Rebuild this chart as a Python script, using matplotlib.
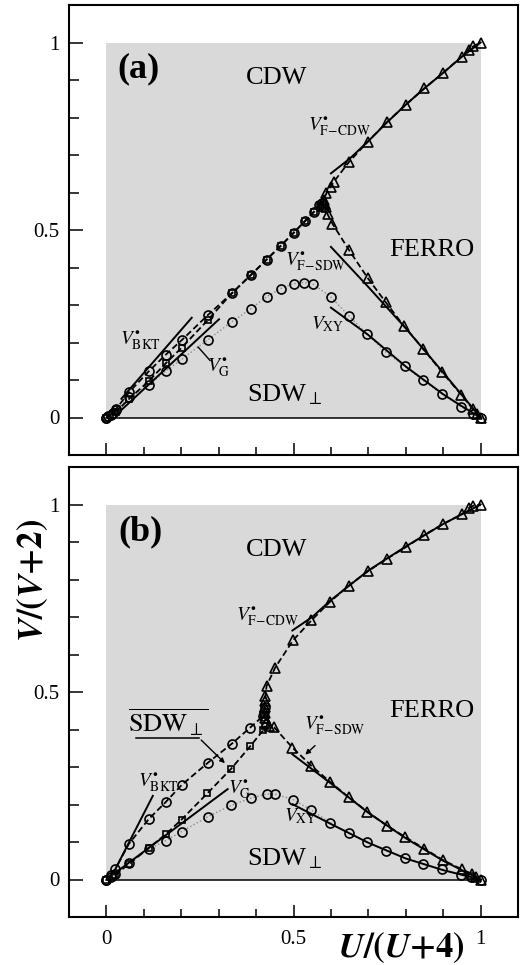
import numpy as np
import matplotlib
matplotlib.use("Agg")
import matplotlib.pyplot as plt
from matplotlib.patches import Rectangle

plt.rcParams['font.family'] = 'serif'
plt.rcParams['font.serif'] = ['Liberation Serif', 'DejaVu Serif']
plt.rcParams['mathtext.fontset'] = 'stix'

#-----------------------------------------------------------------------------
# panel (a) data  (x = U/(U+4), y = V/(V+2))
a_tri_up_x = [0.575, 0.578, 0.581, 0.588, 0.599, 0.608, 0.648, 0.699, 0.749, 0.800, 0.850, 0.900, 0.949, 0.968, 0.981, 1.000]
a_tri_up_y = [0.565, 0.572, 0.580, 0.598, 0.616, 0.629, 0.681, 0.736, 0.787, 0.834, 0.878, 0.919, 0.962, 0.981, 0.990, 1.000]
a_tri_dn_x = [0.583, 0.586, 0.591, 0.604, 0.648, 0.699, 0.746, 0.796, 0.846, 0.897, 0.948, 0.979, 0.990, 1.000]
a_tri_dn_y = [0.570, 0.562, 0.542, 0.517, 0.447, 0.371, 0.308, 0.243, 0.184, 0.121, 0.061, 0.023, 0.010, 0.000]
a_bkt_x = [0.0, 0.005, 0.017, 0.026, 0.061, 0.113, 0.159, 0.201, 0.272, 0.335, 0.386, 0.428, 0.466, 0.500, 0.531, 0.555, 0.568, 0.575]
a_bkt_y = [0.0, 0.004, 0.012, 0.023, 0.068, 0.123, 0.168, 0.206, 0.274, 0.331, 0.380, 0.421, 0.458, 0.492, 0.524, 0.549, 0.567, 0.572]
a_g_x = [0.0, 0.026, 0.061, 0.113, 0.159, 0.201, 0.272, 0.335, 0.386, 0.428, 0.466, 0.500, 0.531, 0.555, 0.570]
a_g_y = [0.0, 0.015, 0.050, 0.097, 0.145, 0.186, 0.261, 0.331, 0.380, 0.421, 0.458, 0.492, 0.524, 0.549, 0.565]
a_xy_x = [0.0, 0.012, 0.026, 0.061, 0.113, 0.159, 0.201, 0.272, 0.335, 0.386, 0.428, 0.466, 0.500, 0.528, 0.553, 0.599, 0.648, 0.697, 0.746, 0.797, 0.846, 0.897, 0.947, 0.980, 1.000]
a_xy_y = [0.0, 0.008, 0.020, 0.055, 0.087, 0.124, 0.155, 0.208, 0.255, 0.290, 0.322, 0.344, 0.357, 0.360, 0.355, 0.322, 0.271, 0.222, 0.175, 0.137, 0.099, 0.063, 0.029, 0.010, 0.000]
# asymptotic (solid) curves
a_fcdw_x = [0.60, 0.65, 0.70, 0.75, 0.80, 0.85, 0.90, 0.95, 1.00]
a_fcdw_y = [0.651, 0.690, 0.737, 0.787, 0.834, 0.878, 0.919, 0.962, 1.000]
a_fsdw_x = [0.60, 0.70, 0.80, 0.90, 1.00]
a_fsdw_y = [0.455, 0.348, 0.238, 0.120, 0.000]
a_vxy_x = [0.60, 0.70, 0.80, 0.90, 0.95, 1.00]
a_vxy_y = [0.293, 0.220, 0.136, 0.062, 0.030, 0.000]
a_sbkt_x = [0.04, 0.228]
a_sbkt_y = [0.050, 0.266]
a_sg_x = [0.04, 0.301]
a_sg_y = [0.020, 0.262]

#-----------------------------------------------------------------------------
# panel (b) data
b_tri_up_x = [0.423, 0.423, 0.423, 0.424, 0.425, 0.428, 0.451, 0.499, 0.548, 0.597, 0.648, 0.699, 0.749, 0.800, 0.850, 0.900, 0.950, 0.968, 0.981, 1.000]
b_tri_up_y = [0.430, 0.445, 0.460, 0.475, 0.490, 0.516, 0.565, 0.638, 0.691, 0.740, 0.784, 0.822, 0.855, 0.886, 0.919, 0.948, 0.974, 0.990, 0.997, 1.000]
b_tri_dn_x = [0.426, 0.435, 0.448, 0.497, 0.548, 0.597, 0.648, 0.697, 0.749, 0.799, 0.850, 0.899, 0.950, 0.977, 0.987, 1.000]
b_tri_dn_y = [0.418, 0.410, 0.406, 0.352, 0.303, 0.261, 0.219, 0.181, 0.144, 0.113, 0.082, 0.052, 0.027, 0.015, 0.008, 0.000]
b_bkt_x = [0.0, 0.012, 0.024, 0.060, 0.113, 0.159, 0.201, 0.272, 0.335, 0.384, 0.419, 0.421, 0.423]
b_bkt_y = [0.0, 0.013, 0.028, 0.095, 0.161, 0.207, 0.252, 0.312, 0.362, 0.405, 0.436, 0.448, 0.460]
b_g_x = [0.0, 0.024, 0.061, 0.113, 0.159, 0.201, 0.270, 0.334, 0.384, 0.419, 0.423]
b_g_y = [0.0, 0.013, 0.042, 0.084, 0.121, 0.160, 0.230, 0.296, 0.355, 0.398, 0.410]
b_xy_x = [0.0, 0.012, 0.024, 0.061, 0.113, 0.159, 0.201, 0.272, 0.334, 0.386, 0.428, 0.450, 0.499, 0.548, 0.597, 0.648, 0.697, 0.746, 0.797, 0.846, 0.897, 0.947, 0.975, 1.000]
b_xy_y = [0.0, 0.008, 0.015, 0.045, 0.081, 0.104, 0.128, 0.168, 0.198, 0.217, 0.228, 0.228, 0.213, 0.185, 0.152, 0.124, 0.099, 0.077, 0.058, 0.042, 0.027, 0.013, 0.006, 0.000]
b_fcdw_x = [0.497, 0.55, 0.60, 0.70, 0.80, 0.90, 1.00]
b_fcdw_y = [0.664, 0.700, 0.745, 0.824, 0.888, 0.948, 1.000]
b_fsdw_x = [0.497, 0.60, 0.70, 0.80, 0.90, 1.00]
b_fsdw_y = [0.334, 0.256, 0.178, 0.110, 0.050, 0.000]
b_vxy_x = [0.497, 0.60, 0.70, 0.80, 0.90, 1.00]
b_vxy_y = [0.201, 0.148, 0.098, 0.056, 0.025, 0.000]
b_sbkt_x = [0.026, 0.124]
b_sbkt_y = [0.032, 0.223]
b_sg_x = [0.02, 0.324]
b_sg_y = [0.015, 0.241]

#-----------------------------------------------------------------------------
fig = plt.figure(figsize=(5.21, 9.65), dpi=100)

mk = dict(mfc='none', mec='black', mew=1.2, ms=6.5)
dash = (0, (3.5, 1.8))

def setup(ax, xlabels):
    ax.set_xlim(-0.1, 1.1)
    ax.set_ylim(-0.1, 1.1)
    ax.add_patch(Rectangle((0, 0), 1, 1, facecolor='#d9d9d9', edgecolor='none', zorder=0))
    ax.plot([0, 1], [0, 0], color='black', lw=1.1, zorder=1)
    for s in ['top', 'right', 'left', 'bottom']:
        ax.spines[s].set_linewidth(1.5)
    ax.set_xticks([0, 0.5, 1])
    ax.set_yticks([0, 0.5, 1])
    ax.set_xticks(np.arange(0.1, 1.0, 0.1), minor=True)
    ax.set_yticks(np.arange(0.1, 1.0, 0.1), minor=True)
    ax.set_yticklabels(['0', '0.5', '1'])
    if xlabels:
        ax.set_xticklabels(['0', '0.5', '1'])
    else:
        ax.set_xticklabels([])
    ax.tick_params(which='both', direction='in', top=False, right=False, labelsize=15, width=1.1)
    ax.tick_params(axis='y', which='major', length=10, pad=7)
    ax.tick_params(axis='y', which='minor', length=7)
    ax.tick_params(axis='x', which='major', length=9, pad=9)
    ax.tick_params(axis='x', which='minor', length=5.5)

def curves(ax, d):
    ax.plot(d['xy_x'], d['xy_y'], ls=':', color='#8a8a8a', lw=1.0, marker='o', **mk, zorder=3)
    ax.plot(d['g_x'], d['g_y'], ls=dash, color='black', lw=1.3, marker='s', mfc='none', mec='black', mew=1.2, ms=5, zorder=4)
    ax.plot(d['bkt_x'], d['bkt_y'], ls=dash, color='black', lw=1.3, marker='o', **mk, zorder=4)
    ax.plot(d['tu_x'], d['tu_y'], ls=dash, color='black', lw=1.3, marker='^', **mk, zorder=4)
    ax.plot(d['td_x'], d['td_y'], ls=dash, color='black', lw=1.3, marker='^', **mk, zorder=4)
    for k in ['fcdw', 'fsdw', 'vxy', 'sbkt', 'sg']:
        ax.plot(d[k + '_x'], d[k + '_y'], color='black', lw=1.4, zorder=5)

lab = dict(fontsize=19, ha='center', va='center')
sub = dict(fontsize=14, ha='center', va='center')

#-----------------------------------------------------------------------------
'''panel (a)'''
ax1 = fig.add_axes([69/521, 510/965, 449/521, 450/965])
setup(ax1, False)
curves(ax1, dict(xy_x=a_xy_x, xy_y=a_xy_y, g_x=a_g_x, g_y=a_g_y, bkt_x=a_bkt_x, bkt_y=a_bkt_y,
                 tu_x=a_tri_up_x, tu_y=a_tri_up_y, td_x=a_tri_dn_x, td_y=a_tri_dn_y,
                 fcdw_x=a_fcdw_x, fcdw_y=a_fcdw_y, fsdw_x=a_fsdw_x, fsdw_y=a_fsdw_y,
                 vxy_x=a_vxy_x, vxy_y=a_vxy_y, sbkt_x=a_sbkt_x, sbkt_y=a_sbkt_y, sg_x=a_sg_x, sg_y=a_sg_y))
ax1.text(0.085, 0.93, '(a)', fontsize=26, fontweight='bold', ha='center', va='center')
ax1.text(0.456, 0.904, 'CDW', **lab)
ax1.text(0.871, 0.447, 'FERRO', **lab)
ax1.text(0.477, 0.062, r'SDW$_{\perp}$', **lab)
ax1.text(0.624, 0.775, r'$V^{\bullet}_{\mathrm{F\!-\!CDW}}$', **sub)
ax1.text(0.56, 0.415, r'$V^{\bullet}_{\mathrm{F\!-\!SDW}}$', **sub)
ax1.text(0.59, 0.250, r'$V_{\mathrm{XY}}$', **sub)
ax1.text(0.09, 0.205, r'$V^{\bullet}_{\mathrm{BKT}}$', **sub)
ax1.text(0.30, 0.132, r'$V^{\bullet}_{\mathrm{G}}$', **sub)
ax1.plot([0.245, 0.277], [0.188, 0.152], color='black', lw=1.0, zorder=6)

#-----------------------------------------------------------------------------
'''panel (b)'''
ax2 = fig.add_axes([69/521, 48/965, 449/521, 450/965])
setup(ax2, True)
curves(ax2, dict(xy_x=b_xy_x, xy_y=b_xy_y, g_x=b_g_x, g_y=b_g_y, bkt_x=b_bkt_x, bkt_y=b_bkt_y,
                 tu_x=b_tri_up_x, tu_y=b_tri_up_y, td_x=b_tri_dn_x, td_y=b_tri_dn_y,
                 fcdw_x=b_fcdw_x, fcdw_y=b_fcdw_y, fsdw_x=b_fsdw_x, fsdw_y=b_fsdw_y,
                 vxy_x=b_vxy_x, vxy_y=b_vxy_y, sbkt_x=b_sbkt_x, sbkt_y=b_sbkt_y, sg_x=b_sg_x, sg_y=b_sg_y))
ax2.text(0.09, 0.928, '(b)', fontsize=26, fontweight='bold', ha='center', va='center')
ax2.text(0.456, 0.878, 'CDW', **lab)
ax2.text(0.871, 0.45, 'FERRO', **lab)
ax2.text(0.477, 0.056, r'SDW$_{\perp}$', **lab)
ax2.text(0.165, 0.420, r'$\overline{\mathrm{SDW}_{\perp}}$', **lab)
ax2.text(0.43, 0.700, r'$V^{\bullet}_{\mathrm{F\!-\!CDW}}$', **sub)
ax2.text(0.61, 0.410, r'$V^{\bullet}_{\mathrm{F\!-\!SDW}}$', **sub)
ax2.text(0.52, 0.170, r'$V_{\mathrm{XY}}$', **sub)
ax2.text(0.14, 0.257, r'$V^{\bullet}_{\mathrm{BKT}}$', **sub)
ax2.text(0.357, 0.240, r'$V^{\bullet}_{\mathrm{G}}$', **sub)
ax2.plot([0.079, 0.248], [0.377, 0.377], color='black', lw=1.1, zorder=6)
ax2.annotate('', xy=(0.322, 0.305), xytext=(0.248, 0.377),
             arrowprops=dict(arrowstyle='-|>', color='black', lw=1.0, mutation_scale=7), zorder=6)
ax2.annotate('', xy=(0.526, 0.328), xytext=(0.563, 0.362),
             arrowprops=dict(arrowstyle='-|>', color='black', lw=1.0, mutation_scale=7), zorder=6)

# axis labels
fig.text(0.77, 0.018, r'$\mathbfit{U}\mathbf{/(}\mathbfit{U}\mathbf{+4)}$', fontsize=25, ha='center', va='center')
fig.text(0.063, 0.398, r'$\mathbfit{V}\mathbf{/(}\mathbfit{V}\mathbf{+2)}$', fontsize=25, rotation=90, ha='center', va='center')

plt.savefig('out.png', dpi=100)
